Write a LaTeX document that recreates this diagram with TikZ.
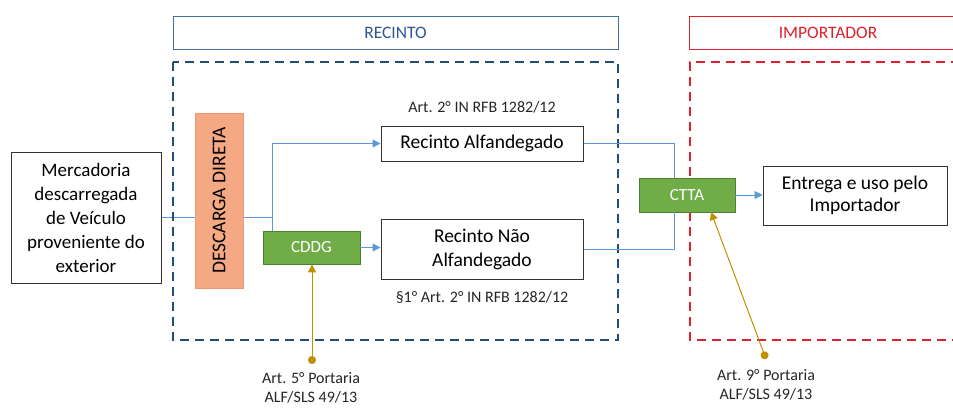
\documentclass[tikz,border=0pt]{standalone}
\usepackage{fontspec}
\setmainfont{Carlito}
\usetikzlibrary{arrows.meta}
\pgfdeclarelayer{bg}
\pgfsetlayers{bg,main}
\definecolor{hdrblue}{RGB}{65,113,156}
\definecolor{txtblue}{RGB}{46,85,151}
\definecolor{dblue}{RGB}{31,78,121}
\definecolor{hred}{RGB}{224,32,42}
\definecolor{orangef}{RGB}{245,168,132}
\definecolor{orangeb}{RGB}{240,150,110}
\definecolor{greenf}{RGB}{112,173,71}
\definecolor{greenb}{RGB}{80,126,50}
\definecolor{conn}{RGB}{91,155,213}
\definecolor{gold}{RGB}{191,144,0}
\begin{document}
\begin{tikzpicture}[x=1pt,y=-1pt,
  box/.style={draw=black!80,line width=1pt,fill=white,align=center,inner sep=0pt,font=\fontsize{19.5}{24}\selectfont},
  gbox/.style={draw=greenb,fill=greenf,line width=0.8pt,text=white,inner sep=0pt,font=\fontsize{17}{20}\selectfont},
  lbl/.style={align=center,inner sep=0pt,font=\fontsize{16}{19}\selectfont,text=black!85},
  cline/.style={draw=conn,line width=0.9pt},
  carrow/.style={cline,-{Triangle[length=8pt,width=8pt]}},
  garrow/.style={draw=gold,line width=1pt,{Circle[length=8pt]}-{Triangle[length=8pt,width=8pt]}}
]
\useasboundingbox (0,0) rectangle (953,407);
% headers
\node[draw=hdrblue,line width=1pt,minimum width=445pt,minimum height=33pt,inner sep=0pt,text=txtblue,font=\fontsize{17.5}{20}\selectfont] (hrec) at (395.5,32.5) {RECINTO};
\draw[draw=hred,line width=1pt] (960,16) -- (689,16) -- (689,49) -- (960,49);
\node[text=hred,inner sep=0pt,font=\fontsize{17.5}{20}\selectfont] (himp) at (828,32.5) {IMPORTADOR};
% dashed areas
\draw[dblue,line width=1.6pt,dash pattern=on 9pt off 6pt] (173,62) rectangle (618,340);
\draw[hred,line width=1.6pt,dash pattern=on 9pt off 6pt] (960,62) -- (690,62) -- (690,340) -- (960,340);
% nodes
\node[box,minimum width=150pt,minimum height=131pt,font=\fontsize{19}{24}\selectfont] (merc) at (86,217.5) {Mercadoria\\descarregada\\de Veículo\\proveniente do\\exterior};
\node[draw=orangeb,fill=orangef,line width=0.6pt,minimum width=175pt,minimum height=48pt,inner sep=0pt,rotate=90,font=\fontsize{19.5}{22}\selectfont] (desc) at (219,200.5) {DESCARGA DIRETA};
\node[box,minimum width=202pt,minimum height=35pt] (ralf) at (482,143.5) {Recinto Alfandegado};
\node[box,minimum width=202pt,minimum height=60pt] (rnao) at (482,249) {Recinto Não\\Alfandegado};
\node[gbox,minimum width=97pt,minimum height=33pt] (cddg) at (311.5,247.5) {CDDG};
\node[gbox,minimum width=96pt,minimum height=34pt] (ctta) at (687,195) {CTTA};
\node[box,minimum width=184pt,minimum height=59pt,font=\fontsize{19.5}{22}\selectfont] (entr) at (855,195.5) {Entrega e uso pelo\\Importador};
\node[lbl] (l1) at (482,107) {Art. 2° IN RFB 1282/12};
\node[lbl] (l2) at (482,297) {§1° Art. 2° IN RFB 1282/12};
\node[lbl] (l3) at (311,388) {Art. 5° Portaria\\ALF/SLS 49/13};
\node[lbl] (l4) at (766,385) {Art. 9° Portaria\\ALF/SLS 49/13};
\coordinate (j) at (272,217);
\coordinate (d1) at (312,364);
\coordinate (d2) at (766,359);
\coordinate (t2) at (711,212);
% connectors
\begin{pgfonlayer}{bg}
\draw[cline] (merc.east |- j) -- (j);
\end{pgfonlayer}
\draw[carrow] (j) |- (ralf.west);
\draw[cline] (j) -- (j |- cddg.north);
\draw[carrow] (cddg.east) -- (cddg.east -| rnao.west);
\draw[cline] (ralf.east) -| (674,178);
\draw[cline] (rnao.east) -| (674,212);
\draw[carrow] (ctta.east) -- (ctta.east -| entr.west);
\draw[garrow] (d1) -- (d1 |- cddg.south);
\draw[garrow] (d2) -- (t2);
\end{tikzpicture}
\end{document}
